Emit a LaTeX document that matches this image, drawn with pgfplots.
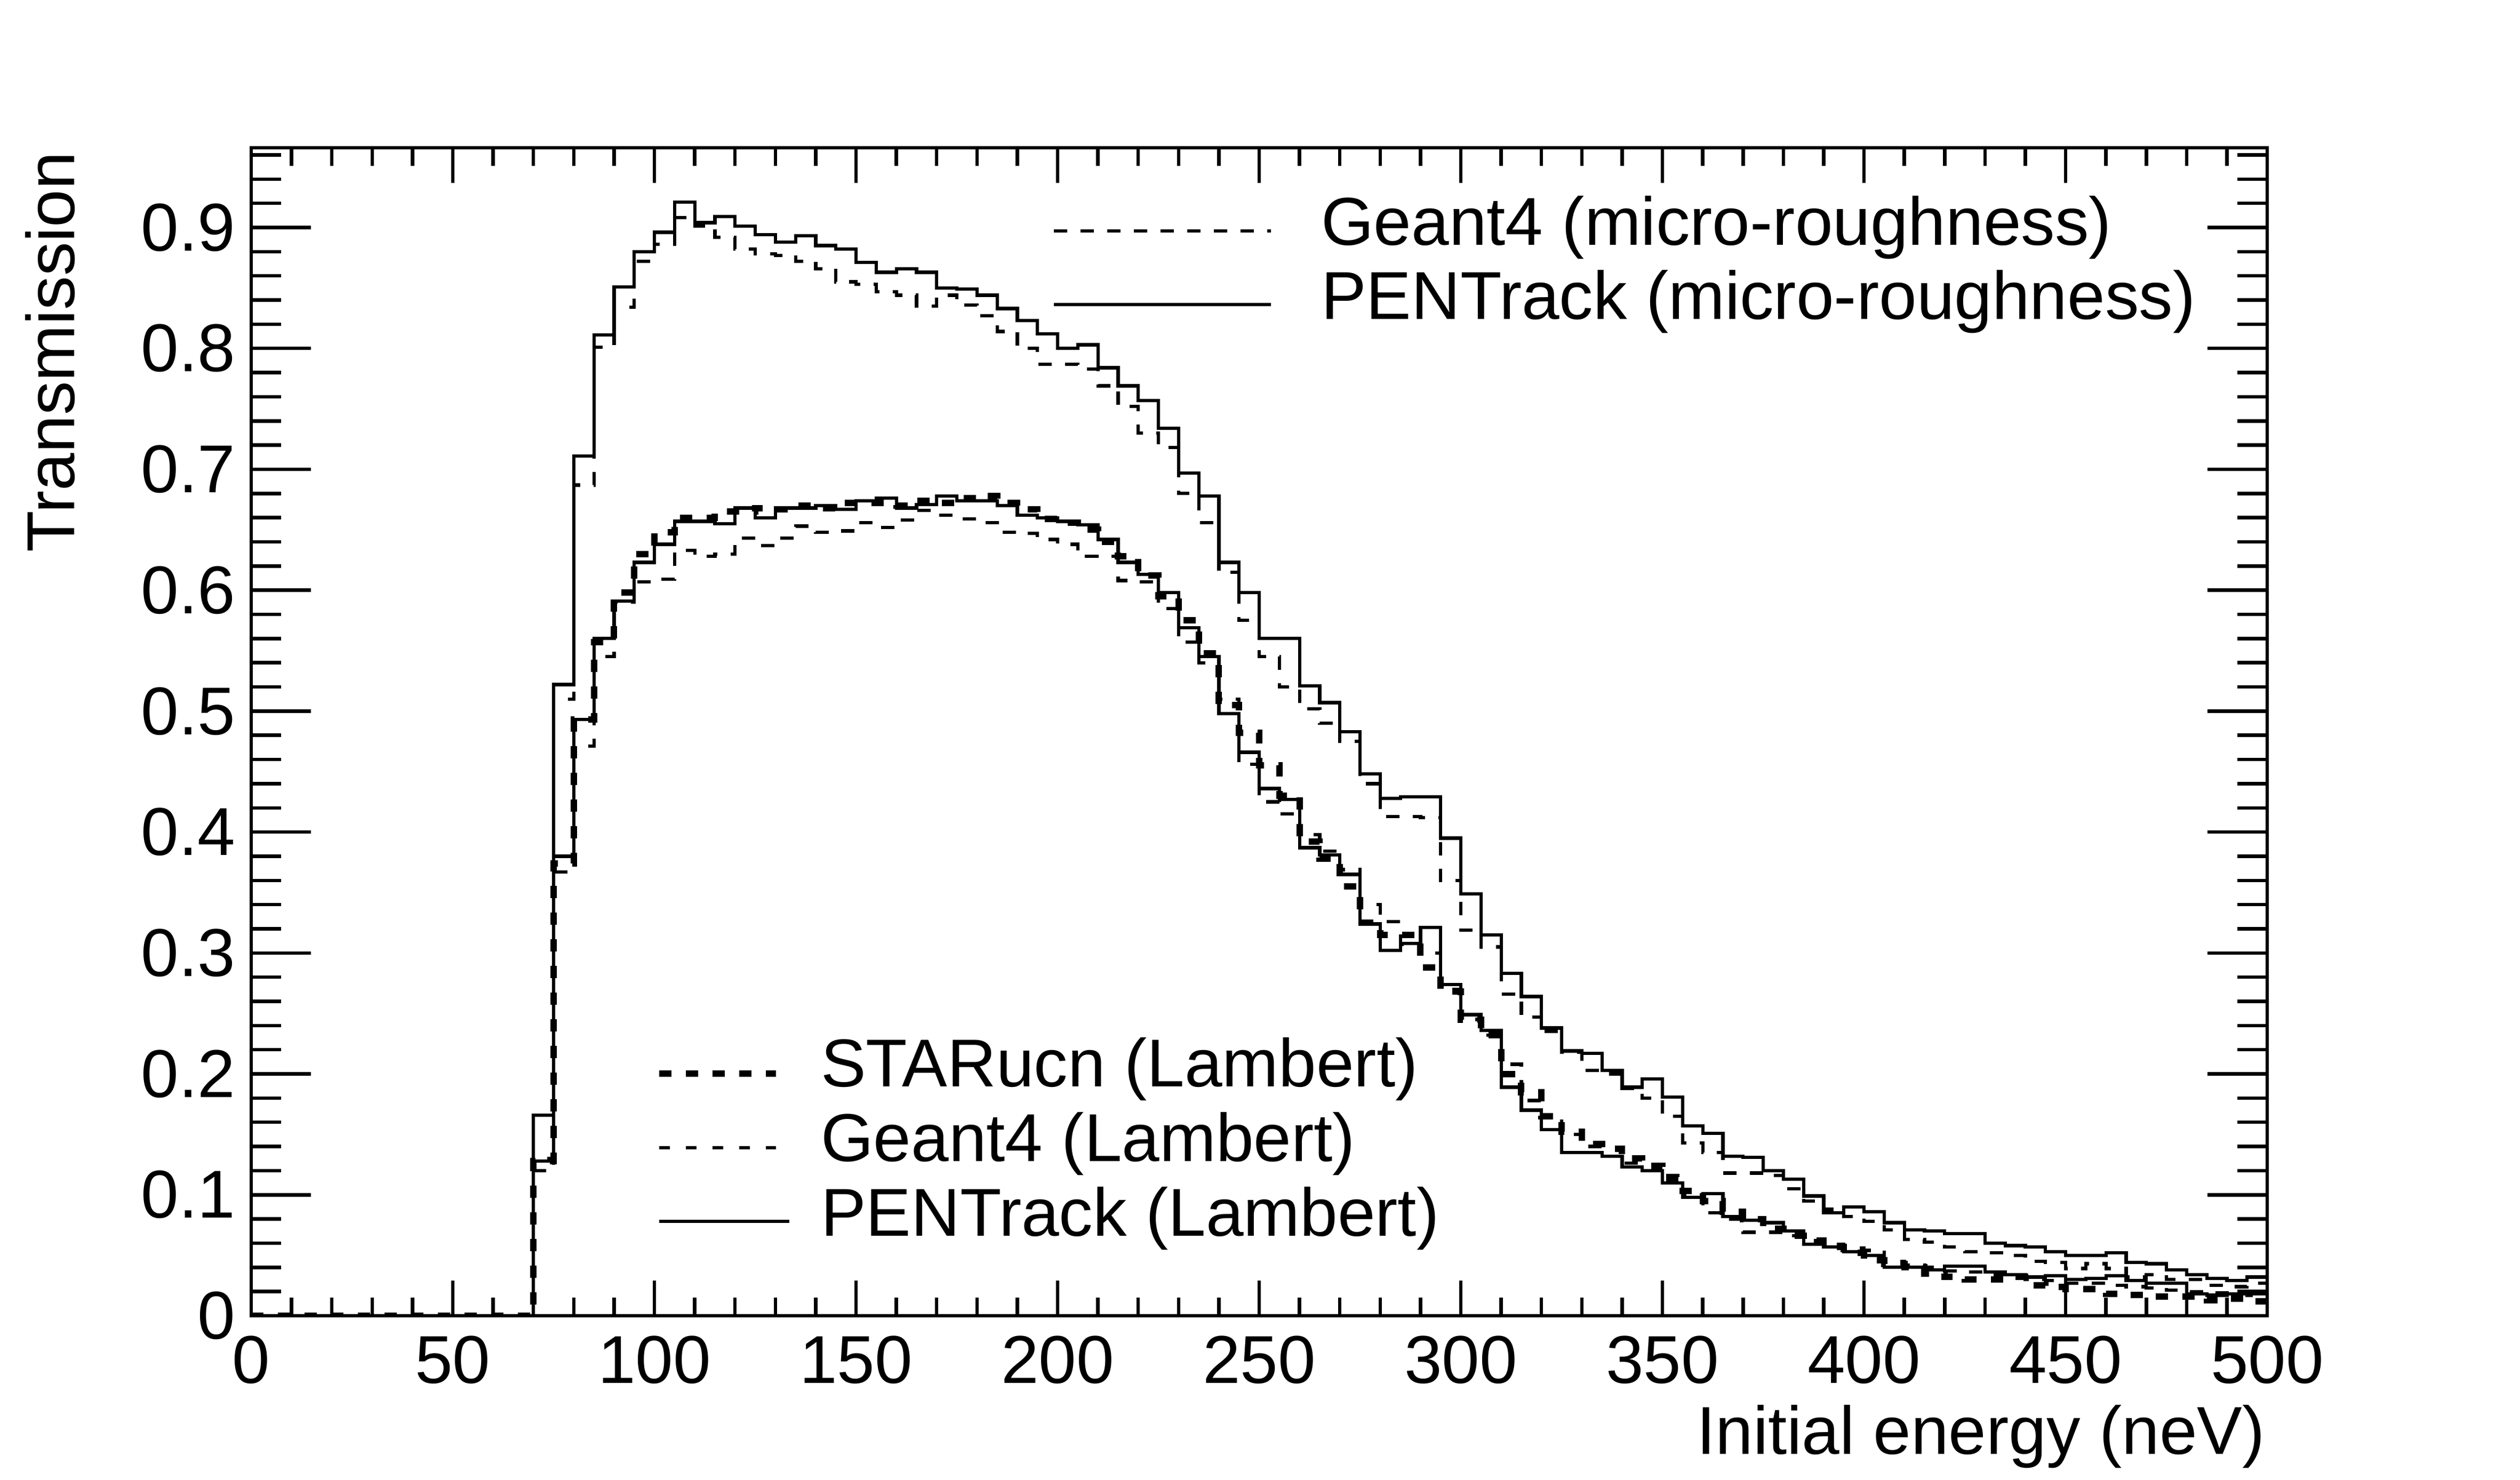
\documentclass[border=0pt]{standalone}
\usepackage{fontspec}
\setmainfont{Liberation Sans}
\usepackage{pgfplots}
\usepackage{pgfplotstable}
\pgfplotsset{compat=1.18}

% PENTrack (micro-roughness)
\pgfplotstableread{
x y
0 0
70 0.166
75 0.522
80 0.711
85 0.811
90 0.851
95 0.880
100 0.896
105 0.921
110 0.904
115 0.909
120 0.901
125 0.894
130 0.888
135 0.893
140 0.885
145 0.882
150 0.871
155 0.863
160 0.866
165 0.863
170 0.850
175 0.849
180 0.844
185 0.833
190 0.823
195 0.812
200 0.800
205 0.803
210 0.784
215 0.769
220 0.757
225 0.734
230 0.697
235 0.678
240 0.623
245 0.598
250 0.560
255 0.560
260 0.521
265 0.507
270 0.483
275 0.448
280 0.428
285 0.429
290 0.429
295 0.395
300 0.349
305 0.315
310 0.283
315 0.264
320 0.238
325 0.219
330 0.217
335 0.203
340 0.189
345 0.196
350 0.181
355 0.157
360 0.151
365 0.132
370 0.131
375 0.120
380 0.113
385 0.099
390 0.085
395 0.090
400 0.086
405 0.077
410 0.071
415 0.070
420 0.068
425 0.068
430 0.060
435 0.058
440 0.057
445 0.053
450 0.050
455 0.050
460 0.052
465 0.044
470 0.043
475 0.038
480 0.034
485 0.031
490 0.029
495 0.032
500 0.032
}\pentmicro

% Geant4 (micro-roughness)
\pgfplotstableread{
x y
0 0
70 0.130
75 0.510
80 0.687
85 0.801
90 0.834
95 0.872
100 0.886
105 0.908
110 0.901
115 0.892
120 0.882
125 0.878
130 0.877
135 0.872
140 0.866
145 0.855
150 0.853
155 0.847
160 0.844
165 0.835
170 0.844
175 0.836
180 0.827
185 0.814
190 0.800
195 0.787
200 0.787
205 0.783
210 0.769
215 0.752
220 0.730
225 0.718
230 0.680
235 0.656
240 0.615
245 0.575
250 0.545
255 0.520
260 0.502
265 0.490
270 0.475
275 0.440
280 0.413
285 0.413
290 0.412
295 0.360
300 0.319
305 0.305
310 0.266
315 0.247
320 0.235
325 0.218
330 0.203
335 0.200
340 0.188
345 0.180
350 0.165
355 0.143
360 0.135
365 0.118
370 0.118
375 0.116
380 0.105
385 0.095
390 0.088
395 0.082
400 0.078
405 0.071
410 0.063
415 0.061
420 0.057
425 0.053
430 0.052
435 0.050
440 0.045
445 0.044
450 0.039
455 0.043
460 0.039
465 0.032
470 0.034
475 0.030
480 0.030
485 0.025
490 0.024
495 0.027
500 0.027
}\geantmicro

% STARucn (Lambert)
\pgfplotstableread{
x y
0 0
70 0.128
75 0.374
80 0.493
85 0.557
90 0.598
95 0.630
100 0.648
105 0.660
110 0.660
115 0.665
120 0.665
125 0.668
130 0.667
135 0.670
140 0.668
145 0.672
150 0.672
155 0.672
160 0.670
165 0.674
170 0.672
175 0.676
180 0.678
185 0.672
190 0.667
195 0.659
200 0.656
205 0.650
210 0.640
215 0.628
220 0.612
225 0.595
230 0.575
235 0.548
240 0.505
245 0.482
250 0.455
255 0.430
260 0.392
265 0.378
270 0.355
275 0.325
280 0.315
285 0.315
290 0.288
295 0.268
300 0.245
305 0.232
310 0.200
315 0.185
320 0.165
325 0.152
330 0.142
335 0.138
340 0.130
345 0.124
350 0.114
355 0.103
360 0.095
365 0.086
370 0.080
375 0.072
380 0.066
385 0.062
390 0.057
395 0.052
400 0.046
405 0.043
410 0.040
415 0.035
420 0.032
425 0.030
430 0.030
435 0.032
440 0.025
445 0.024
450 0.022
455 0.022
460 0.018
465 0.017
470 0.016
475 0.016
480 0.016
485 0.013
490 0.014
495 0.012
500 0.012
}\starlam

% Geant4 (Lambert)
\pgfplotstableread{
x y
0 0
70 0.120
75 0.367
80 0.471
85 0.545
90 0.590
95 0.607
100 0.609
105 0.633
110 0.628
115 0.630
120 0.643
125 0.637
130 0.643
135 0.653
140 0.648
145 0.649
150 0.656
155 0.652
160 0.658
165 0.666
170 0.662
175 0.659
180 0.656
185 0.648
190 0.647
195 0.642
200 0.638
205 0.628
210 0.628
215 0.608
220 0.607
225 0.585
230 0.557
235 0.540
240 0.510
245 0.456
250 0.425
255 0.415
260 0.398
265 0.384
270 0.369
275 0.340
280 0.326
285 0.307
290 0.300
295 0.270
300 0.245
305 0.232
310 0.208
315 0.178
320 0.165
325 0.150
330 0.140
335 0.132
340 0.126
345 0.120
350 0.116
355 0.100
360 0.085
365 0.080
370 0.069
375 0.069
380 0.066
385 0.062
390 0.059
395 0.056
400 0.054
405 0.045
410 0.042
415 0.040
420 0.037
425 0.036
430 0.034
435 0.032
440 0.030
445 0.029
450 0.027
455 0.027
460 0.025
465 0.024
470 0.023
475 0.021
480 0.020
485 0.019
490 0.018
495 0.017
500 0.017
}\geantlam

% PENTrack (Lambert)
\pgfplotstableread{
x y
0 0
70 0.128
75 0.380
80 0.493
85 0.560
90 0.591
95 0.623
100 0.638
105 0.657
110 0.657
115 0.655
120 0.668
125 0.660
130 0.668
135 0.668
140 0.670
145 0.667
150 0.674
155 0.676
160 0.668
165 0.671
170 0.678
175 0.674
180 0.674
185 0.670
190 0.662
195 0.660
200 0.657
205 0.654
210 0.642
215 0.623
220 0.613
225 0.598
230 0.569
235 0.545
240 0.498
245 0.466
250 0.436
255 0.427
260 0.387
265 0.381
270 0.365
275 0.324
280 0.302
285 0.308
290 0.321
295 0.274
300 0.249
305 0.236
310 0.189
315 0.170
320 0.154
325 0.135
330 0.135
335 0.132
340 0.123
345 0.120
350 0.110
355 0.098
360 0.101
365 0.082
370 0.079
375 0.077
380 0.070
385 0.059
390 0.057
395 0.053
400 0.050
405 0.040
410 0.040
415 0.038
420 0.041
425 0.041
430 0.036
435 0.034
440 0.032
445 0.033
450 0.030
455 0.031
460 0.033
465 0.029
470 0.027
475 0.027
480 0.018
485 0.017
490 0.018
495 0.018
500 0.018
}\pentlam

\newcommand{\lblfont}{\fontsize{12.7}{15}\selectfont}

\begin{document}
\begin{tikzpicture}
\path[use as bounding box] (-47.1pt,-30.8pt) rectangle (425.4pt,246.7pt);
\pgfplotsset{
  common/.style={
    scale only axis, width=378pt, height=219pt,
    xmin=0, xmax=500, ymin=0, ymax=0.966,
    at={(0pt,0pt)}, anchor=origin,
    axis line style={line width=0.65pt, black},
    every tick/.style={line width=0.65pt, black},
    tick align=inside,
    ticklabel style={font=\lblfont},
  },
  thinsolid/.style={const plot, black, line width=0.62pt},
  thindash/.style={const plot, black, line width=0.62pt, dash pattern=on 2.5pt off 2.5pt},
  thickdash/.style={const plot, black, line width=1.2pt, dash pattern=on 2.3pt off 2.7pt},
}
\begin{axis}[common,
    xtick={0,50,...,500},
    xticklabels={0,50,100,150,200,250,300,350,400,450,500},
    minor xtick={0,10,...,500},
    major tick length=6.6pt, minor tick length=3.4pt,
    ytick=\empty,
    xticklabel style={anchor=base, inner sep=0pt, yshift=-12.6pt},
  ]
  \addplot[thindash] table[x=x,y=y] {\geantmicro};
  \addplot[thinsolid] table[x=x,y=y] {\pentmicro};
  \addplot[thindash] table[x=x,y=y] {\geantlam};
  \addplot[thinsolid] table[x=x,y=y] {\pentlam};
  \addplot[thickdash] table[x=x,y=y] {\starlam};
\end{axis}
\begin{axis}[common,
    xtick=\empty,
    ytick={0,0.1,0.2,0.3,0.4,0.5,0.6,0.7,0.8,0.9},
    yticklabels={0,0.1,0.2,0.3,0.4,0.5,0.6,0.7,0.8,0.9},
    minor ytick={0.02,0.04,0.06,0.08,0.12,0.14,0.16,0.18,0.22,0.24,0.26,0.28,0.32,0.34,0.36,0.38,0.42,0.44,0.46,0.48,0.52,0.54,0.56,0.58,0.62,0.64,0.66,0.68,0.72,0.74,0.76,0.78,0.82,0.84,0.86,0.88,0.92,0.94,0.96},
    major tick length=11.2pt, minor tick length=5.6pt,
    yticklabel style={anchor=east, inner sep=0pt, xshift=-2.8pt},
  ]
\end{axis}

% upper legend
\draw[black, line width=0.62pt, dash pattern=on 2.5pt off 2.5pt] (150.5pt,203.4pt) -- (191.2pt,203.4pt);
\draw[black, line width=0.62pt] (150.5pt,189.6pt) -- (191.2pt,189.6pt);
\node[anchor=base west, inner sep=0pt, font=\lblfont] at (200.4pt,200.7pt) {Geant4 (micro-roughness)};
\node[anchor=base west, inner sep=0pt, font=\lblfont] at (200.4pt,186.8pt) {PENTrack (micro-roughness)};

% lower legend
\draw[black, line width=1.2pt, dash pattern=on 2.3pt off 2.7pt] (76.5pt,45.4pt) -- (98.4pt,45.4pt);
\draw[black, line width=0.62pt, dash pattern=on 2.0pt off 3.0pt] (76.5pt,31.5pt) -- (98.4pt,31.5pt);
\draw[black, line width=0.62pt] (76.5pt,17.7pt) -- (100.9pt,17.7pt);
\node[anchor=base west, inner sep=0pt, font=\lblfont] at (106.6pt,42.9pt) {STARucn (Lambert)};
\node[anchor=base west, inner sep=0pt, font=\lblfont] at (106.6pt,28.9pt) {Geant4 (Lambert)};
\node[anchor=base west, inner sep=0pt, font=\lblfont] at (106.6pt,14.9pt) {PENTrack (Lambert)};

% axis titles
\node[anchor=base east, inner sep=0pt, font=\lblfont] at (377.8pt,-26.0pt) {Initial energy (neV)};
\node[rotate=90, anchor=base east, inner sep=0pt, font=\lblfont] at (-33.1pt,218.4pt) {Transmission};
\end{tikzpicture}
\end{document}
